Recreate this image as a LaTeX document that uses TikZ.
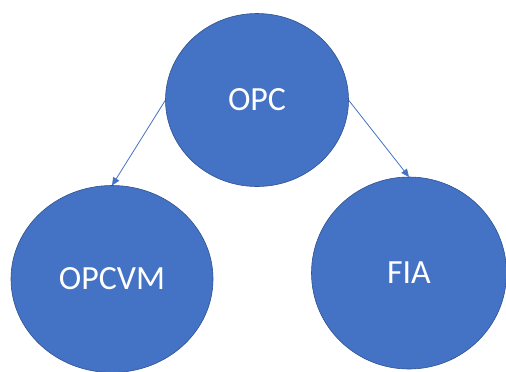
\documentclass[tikz,border=0pt]{standalone}
\usepackage{fontspec}
\setmainfont{Carlito}
\usetikzlibrary{shapes.geometric,arrows.meta}
\definecolor{officeblue}{HTML}{4472C4}
\definecolor{officeline}{HTML}{2F528F}
\begin{document}
\begin{tikzpicture}[x=1bp,y=-1bp,
        fund/.style={ellipse, fill=officeblue, draw=officeline, line width=0.6bp,
            inner sep=0pt, outer sep=0pt, text=white,
            font=\fontsize{34}{40}\selectfont},
        link/.style={officeblue, line width=0.8bp, -{Triangle[length=8bp,width=7bp]}}]
        \useasboundingbox (0,0) rectangle (506,371);

        % OPC
        \node[fund, minimum width=183bp, minimum height=173bp] (opc) at (257,100) {OPC};

        % OPCVM
        \node[fund, minimum width=202bp, minimum height=187bp] (opcvm) at (112,279) {OPCVM};

        % FIA
        \node[fund, minimum width=195bp, minimum height=192bp] (fia) at (409,273) {FIA};

        \draw[link] (opc.west) -- (opcvm.north);
        \draw[link] (opc.east) -- (fia.north);
    \end{tikzpicture}
\end{document}
